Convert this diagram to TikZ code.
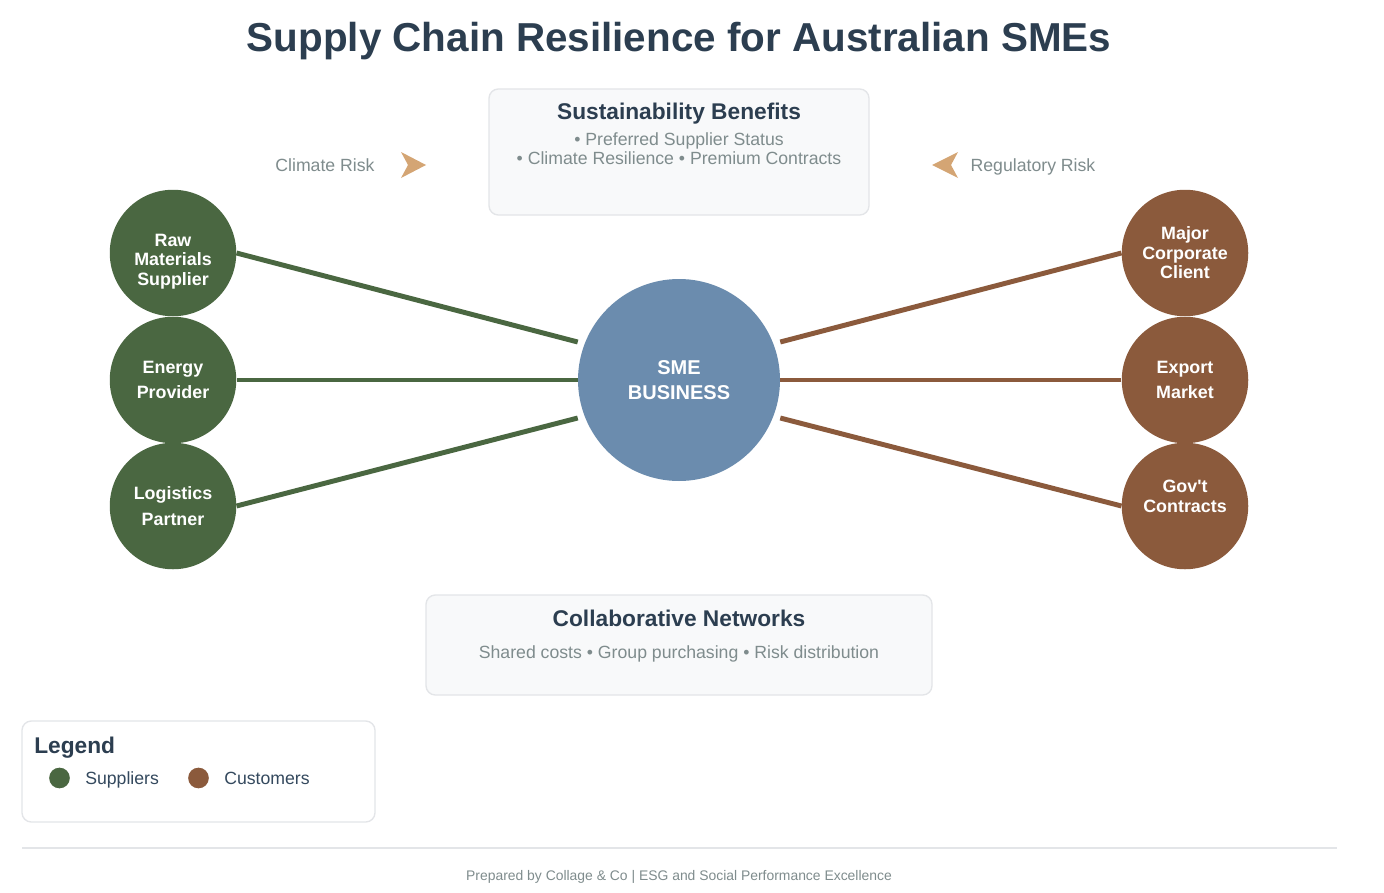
\documentclass[tikz,border=0pt]{standalone}
\usepackage{fontspec}
\setmainfont{Liberation Sans}
\usetikzlibrary{calc, positioning}
\definecolor{inkC}{HTML}{2C3E50}
\definecolor{greyC}{HTML}{7F8C8D}
\definecolor{legendC}{HTML}{34495E}
\definecolor{paperC}{HTML}{F8F9FA}
\definecolor{rimC}{HTML}{E3E5E8}
\definecolor{supplierC}{HTML}{4A6741}
\definecolor{customerC}{HTML}{8B5A3C}
\definecolor{smeC}{HTML}{6B8CAE}
\definecolor{riskC}{HTML}{D4A574}
\tikzset{
    hub/.style={circle, draw=none, fill=#1, minimum size=126.5*0.75pt, inner sep=0pt, text=white, align=center, font=\fontsize{13.4}{14.6}\selectfont\bfseries},
    hub/.default={supplierC},
    panel/.style={draw=rimC, line width=1pt, rounded corners=7pt, inner sep=0pt},
    head/.style={text=inkC, inner sep=0pt, font=\fontsize{17.05}{20}\selectfont\bfseries},
    body/.style={text=greyC, inner sep=0pt, align=center, font=\fontsize{13.25}{14.2}\selectfont},
    link/.style={draw=#1, line width=3.7pt},
    chevron/.style={fill=riskC, draw=none},
    dot/.style={circle, fill=#1, minimum size=15.5pt, inner sep=0pt},
    entry/.style={text=legendC, inner sep=0pt, font=\fontsize{13.25}{16}\selectfont}
}
\begin{document}
\begin{tikzpicture}[x=0.75pt, y=-0.75pt]
    \useasboundingbox (0,0) rectangle (1384,892);
    \fill[white] (0,0) rectangle (1384,892);
    \node[text=inkC, inner sep=0pt, font=\fontsize{30.3}{36}\selectfont\bfseries] (title) at (679,41) {Supply Chain Resilience for Australian SMEs};
    % top panel
    \node[panel, fill=paperC, minimum width=285pt, minimum height=94.5pt] (benefits) at (679,152) {};
    \node[head] (benefitsHead) at (679,114) {Sustainability Benefits};
    \node[body, anchor=north] (benefitsBody) at (679,132.5) {• Preferred Supplier Status\\• Climate Resilience • Premium Contracts};
    % risks
    \node[body] (climate) at (325,165) {Climate Risk};
    \node[body] (regulatory) at (1033,167) {Regulatory Risk};
    \fill[chevron] (401,152) -- (426,165) -- (401,178) -- (408,165) -- cycle;
    \fill[chevron] (958,152) -- (932,165) -- (958,178) -- (951,165) -- cycle;
    % hubs
    \node[hub=smeC, minimum size=151.5pt, font=\fontsize{15}{19}\selectfont\bfseries] (sme) at (679,380) {SME\\BUSINESS};
    \node[hub] (raw) at (173,253) {{}\\[7.5pt]Raw\\Materials\\Supplier};
    \node[hub, font=\fontsize{13.4}{19}\selectfont\bfseries] (energy) at (173,380) {Energy\\Provider};
    \node[hub, font=\fontsize{13.4}{19}\selectfont\bfseries] (logistics) at (173,506) {Logistics\\Partner};
    \node[hub=customerC] (major) at (1185,253) {Major\\Corporate\\Client};
    \node[hub=customerC, font=\fontsize{13.4}{19}\selectfont\bfseries] (export) at (1185,380) {Export\\Market};
    \node[hub=customerC] (gov) at (1185,506) {Gov\textquotesingle t\\Contracts\\{}};
    % links
    \draw[link=supplierC] (raw.east) -- ($(sme.west)+(0,-38)$);
    \draw[link=supplierC] (energy.east) -- (sme.west);
    \draw[link=supplierC] (logistics.east) -- ($(sme.west)+(0,38)$);
    \draw[link=customerC] (major.west) -- ($(sme.east)+(0,-38)$);
    \draw[link=customerC] (export.west) -- (sme.east);
    \draw[link=customerC] (gov.west) -- ($(sme.east)+(0,38)$);
    % bottom panel
    \node[panel, fill=paperC, minimum width=379.5pt, minimum height=75pt] (networks) at (679,645) {};
    \node[head] (networksHead) at (679,618) {Collaborative Networks};
    \node[body] (networksBody) at (679,654) {Shared costs • Group purchasing • Risk distribution};
    % legend
    \node[panel, fill=white, minimum width=264.75pt, minimum height=75.75pt] (legend) at (198.5,771.5) {};
    \node[head, anchor=west] (legendHead) at (34,748) {Legend};
    \node[dot=supplierC] (dotS) at (59.5,778) {};
    \node[entry, anchor=west] (entryS) at (85,780) {Suppliers};
    \node[dot=customerC] (dotC) at (198.5,778) {};
    \node[entry, anchor=west] (entryC) at (224,778) {Customers};
    % footer
    \coordinate (ruleL) at (22,848);
    \coordinate (ruleR) at (1337,848);
    \draw[rimC, line width=1pt] (ruleL) -- (ruleR);
    \node[text=greyC, inner sep=0pt, font=\fontsize{10.43}{12}\selectfont] (footer) at (679,877) {Prepared by Collage \& Co | ESG and Social Performance Excellence};
\end{tikzpicture}
\end{document}
